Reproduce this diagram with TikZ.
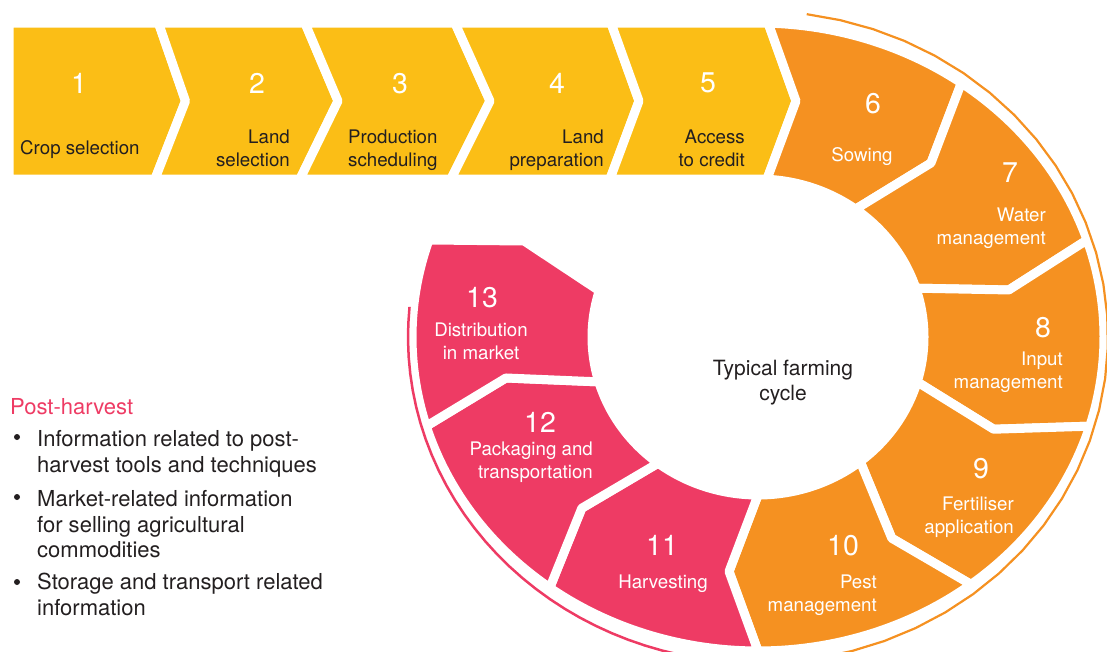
\documentclass[tikz,border=0pt]{standalone}
\usepackage{fontspec}
\setmainfont{TeX Gyre Heros}
\usetikzlibrary{positioning}

\definecolor{cropyellow}{RGB}{251,190,22}
\definecolor{cycleorange}{RGB}{245,145,33}
\definecolor{harvestred}{RGB}{238,59,100}
\definecolor{inkgrey}{RGB}{35,31,32}

\newcommand{\numfont}{\fontsize{28.5}{30}\selectfont}
\newcommand{\labfont}{\fontsize{18.7}{22.5}\selectfont}
% centre and radii of the ring (outer, middle, inner)
\newcommand{\ringx}{758}
\newcommand{\ringy}{337}
\newcommand{\outrx}{346}
\newcommand{\outry}{314}
\newcommand{\midrx}{256}
\newcommand{\midry}{236}
\newcommand{\inrx}{166}
\newcommand{\inry}{158}

\begin{document}
\begin{tikzpicture}[x=1pt, y=-1pt, samples=30,
    stagebox/.style={draw=white, line width=9, line join=round},
    numtext/.style={text=white, inner sep=0, font=\numfont},
    steptext/.style={text=white, inner sep=0, font=\labfont},
    toptext/.style={text=inkgrey, inner sep=0, font=\labfont},
    listtext/.style={text=inkgrey, inner sep=0, align=left, font=\fontsize{22}{25.8}\selectfont},
    dot/.style={circle, fill=inkgrey, inner sep=0, minimum size=6}
    ]
        \useasboundingbox (0,0) rectangle (1107,651);
        \clip (0,0) rectangle (1107,651);

        %Top row
        \filldraw[stagebox, fill=cropyellow] (9,23) -- (158.5,23) -- (185.5,101) -- (155,179) -- (9,179) -- cycle;
        \foreach \lt/\lp/\lb/\rt/\rp/\rb in {158.5/185.5/155/305/338/300, 305/338/300/455/490/451,
                455/490/451/611/639/610, 611/639/610/768/796/767}
            \filldraw[stagebox, fill=cropyellow]
                (\lt,23) -- (\rt,23) -- (\rp,101) -- (\rb,179) -- (\lb,179) -- (\lp,101) -- cycle;

        %Ring
        \filldraw[stagebox, fill=cycleorange]
            plot[domain=-88.3:-54] ({\ringx+\outrx*cos(\x)},{\ringy+\outry*sin(\x)})
            -- ({\ringx+\midrx*cos(-47.5)},{\ringy+\midry*sin(-47.5)})
            -- plot[domain=-54:-86.9] ({\ringx+\inrx*cos(\x)},{\ringy+\inry*sin(\x)})
            -- (796,101) -- cycle;
        \foreach \a/\b/\col in {-54/-18/cycleorange, -18/16.5/cycleorange, 16.5/52/cycleorange,
                52/90/cycleorange, 90/127/harvestred, 127/163.5/harvestred}
            \filldraw[stagebox, fill=\col]
                plot[domain=\a:\b] ({\ringx+\outrx*cos(\x)},{\ringy+\outry*sin(\x)})
                -- ({\ringx+\midrx*cos(\b+6.5)},{\ringy+\midry*sin(\b+6.5)})
                -- plot[domain=\b:\a] ({\ringx+\inrx*cos(\x)},{\ringy+\inry*sin(\x)})
                -- ({\ringx+\midrx*cos(\a+6.5)},{\ringy+\midry*sin(\a+6.5)}) -- cycle;
        \filldraw[stagebox, fill=harvestred]
            plot[domain=163.5:198] ({\ringx+\outrx*cos(\x)},{\ringy+\outry*sin(\x)})
            -- ({\ringx+\midrx*cos(204)},{\ringy+\midry*sin(204)})
            -- plot[domain=197:163.5] ({\ringx+\inrx*cos(\x)},{\ringy+\inry*sin(\x)})
            -- ({\ringx+\midrx*cos(170)},{\ringy+\midry*sin(170)}) -- cycle;

        %Thin arcs
        \draw[cycleorange, line width=2.2] plot[domain=-82:80] ({\ringx+350*cos(\x)},{\ringy+326*sin(\x)});
        \draw[harvestred, line width=2.5] plot[domain=100:185.3] ({\ringx+350*cos(\x)},{\ringy+326*sin(\x)});

        %Numbers and labels
        \node[numtext, anchor=north] (n1) at (79,73) {1};
        \node[numtext, anchor=north] (n2) at (257,73) {2};
        \node[numtext, anchor=north] (n3) at (400,73) {3};
        \node[numtext, anchor=north] (n4) at (557,73) {4};
        \node[numtext, anchor=north] (n5) at (708,73) {5};
        \node[toptext, anchor=north west] (l1) at (20,140) {Crop selection};
        \node[toptext, anchor=north east, align=right] (l2) at (290,130) {Land\\selection};
        \node[toptext, anchor=north west, align=left] (l3) at (348,130) {Production\\scheduling};
        \node[toptext, anchor=north east, align=right] (l4) at (604,130) {Land\\preparation};
        \node[toptext, anchor=north east, align=right] (l5) at (745,130) {Access\\to credit};

        \node[numtext, anchor=north] (n6) at (873,93) {6};
        \node[steptext, anchor=north] (l6) at (862,147) {Sowing};
        \node[numtext, anchor=north] (n7) at (1010,163) {7};
        \node[steptext, anchor=north east, align=right] (l7) at (1046,208) {Water\\management};
        \node[numtext, anchor=north] (n8) at (1043,317) {8};
        \node[steptext, anchor=north east, align=right] (l8) at (1063,352) {Input\\management};
        \node[numtext, anchor=north] (n9) at (981,458) {9};
        \node[steptext, anchor=north east, align=right] (l9) at (1014,497) {Fertiliser\\application};
        \node[numtext, anchor=north] (n10) at (843,535) {10};
        \node[steptext, anchor=north east, align=right] (l10) at (877,575) {Pest\\management};
        \node[numtext, anchor=north] (n11) at (662,535) {11};
        \node[steptext, anchor=north] (l11) at (663,575) {Harvesting};
        \node[numtext, anchor=north] (n12) at (540,412) {12};
        \node[steptext, anchor=north east, align=right] (l12) at (593,442) {Packaging and\\transportation};
        \node[numtext, anchor=north] (n13) at (482,287) {13};
        \node[steptext, anchor=north, align=center] (l13) at (481,323) {Distribution\\in market};

        \node[text=inkgrey, inner sep=0, align=center, anchor=north, font=\fontsize{21}{24.5}\selectfont]
            (cycle) at (783,360) {Typical farming\\cycle};

        %Post-harvest list
        \node[text=harvestred, inner sep=0, anchor=north west, font=\fontsize{22}{25.8}\selectfont]
            (head) at (10,398) {Post-harvest};
        \node[dot] (b1) at (17,437) {};
        \node[listtext, anchor=north west] (i1) at (37,430) {Information related to post-\\harvest tools and techniques};
        \node[dot] (b2) at (17,497) {};
        \node[listtext, anchor=north west] (i2) at (37,490) {Market-related information\\for selling agricultural\\commodities};
        \node[dot] (b3) at (17,582) {};
        \node[listtext, anchor=north west] (i3) at (37,573) {Storage and transport related\\information};
\end{tikzpicture}
\end{document}
